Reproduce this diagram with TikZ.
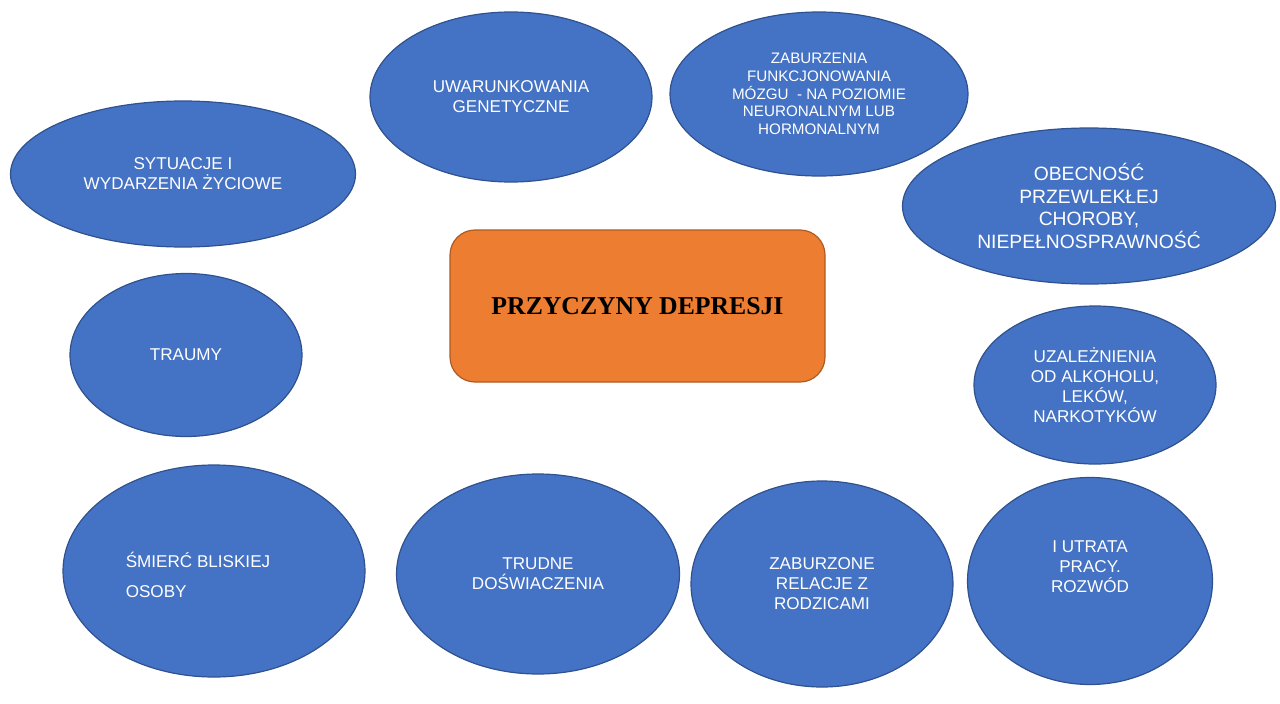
\documentclass[tikz,border=0pt]{standalone}
\usepackage{fontspec}
\setmainfont{Liberation Serif}
\setsansfont{Liberation Sans}
\usetikzlibrary{shapes.geometric}
\definecolor{bluefill}{HTML}{4472C4}
\definecolor{blueedge}{HTML}{2F528F}
\definecolor{orangefill}{HTML}{ED7D31}
\definecolor{orangeedge}{HTML}{AE5A21}
\begin{document}
\begin{tikzpicture}[x=1pt, y=-1pt, line width=1.2pt,
    bubble/.style={ellipse, draw=blueedge, fill=bluefill, text=white, align=center, inner sep=0pt,
      font=\sffamily\fontsize{17.1}{20}\selectfont},
    bubbletext/.style={text=white, align=center, inner sep=0pt, font=\sffamily\fontsize{17.1}{20}\selectfont},
    mainbox/.style={rectangle, rounded corners=25pt, draw=orangeedge, fill=orangefill, text=black,
      font=\rmfamily\bfseries\fontsize{25.7}{30}\selectfont}]
    \useasboundingbox (0,0) rectangle (1280,704);
    % srodek
    \node [mainbox, minimum width=375pt, minimum height=152pt] (przyczyny) at (637.5,306) {PRZYCZYNY DEPRESJI};
    % gorny rzad
    \node [bubble, minimum width=345pt, minimum height=146pt] (sytuacje) at (183,174) {SYTUACJE I\\WYDARZENIA ŻYCIOWE};
    \node [bubble, minimum width=282pt, minimum height=170pt] (geny) at (511,97) {UWARUNKOWANIA\\GENETYCZNE};
    \node [bubble, minimum width=298pt, minimum height=164pt, font=\sffamily\fontsize{15.2}{17.7}\selectfont] (mozg) at (819,94)
      {ZABURZENIA\\FUNKCJONOWANIA\\MÓZGU\ \ - NA POZIOMIE\\NEURONALNYM LUB\\HORMONALNYM};
    \node [bubble, minimum width=373pt, minimum height=156pt, font=\sffamily\fontsize{19.3}{22.5}\selectfont] (choroba) at (1089,206)
      {OBECNOŚĆ\\PRZEWLEKŁEJ\\CHOROBY,\\NIEPEŁNOSPRAWNOŚĆ};
    % srodkowy rzad
    \node [bubble, minimum width=232pt, minimum height=163pt] (traumy) at (186,355) {TRAUMY};
    \node [bubble, minimum width=242pt, minimum height=158pt] (uzaleznienia) at (1095,385)
      {UZALEŻNIENIA\\OD ALKOHOLU,\\LEKÓW,\\NARKOTYKÓW};
    % dolny rzad
    \node [bubble, minimum width=302pt, minimum height=212pt,
      label={[bubbletext, align=left, font=\sffamily\fontsize{17.1}{30}\selectfont, xshift=-16pt, yshift=-4pt]center:{ŚMIERĆ BLISKIEJ\\OSOBY}}]
      (smierc) at (214,571) {};
    \node [bubble, minimum width=283pt, minimum height=200pt] (trudne) at (538,574) {TRUDNE\\DOŚWIACZENIA};
    \node [bubble, minimum width=262pt, minimum height=206pt] (relacje) at (822,584) {ZABURZONE\\RELACJE Z\\RODZICAMI};
    \node [bubble, minimum width=245pt, minimum height=207pt,
      label={[bubbletext, yshift=14pt]center:{I UTRATA\\PRACY.\\ROZWÓD}}]
      (utrata) at (1090,581) {};
\end{tikzpicture}
\end{document}
